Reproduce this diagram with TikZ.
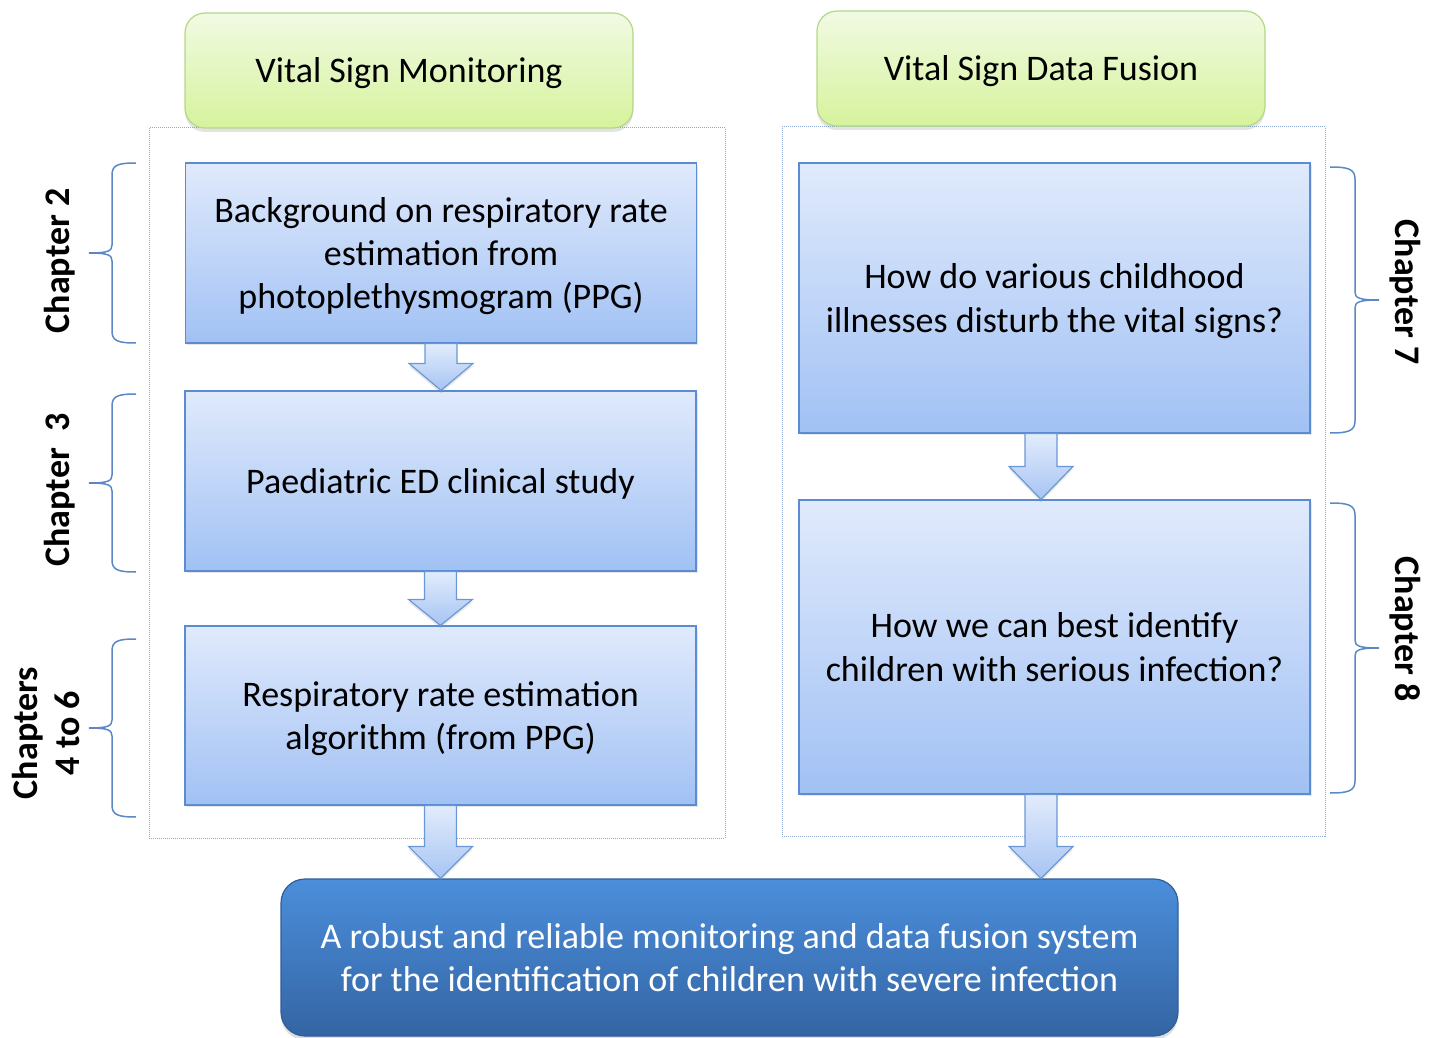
\documentclass[tikz,border=0pt]{standalone}
\usepackage{fontspec}
\setmainfont{Carlito}
\usetikzlibrary{calc,shadows}

\definecolor{greentop}{HTML}{F1FAE3}
\definecolor{greenbot}{HTML}{D6F39C}
\definecolor{greenline}{HTML}{B2D888}
\definecolor{bluetop}{HTML}{E0EAFC}
\definecolor{bluebot}{HTML}{A1C1F4}
\definecolor{blueline}{HTML}{5B8CD2}
\definecolor{arrowtop}{HTML}{E2ECFC}
\definecolor{arrowbot}{HTML}{A7C4F3}
\definecolor{arrowline}{HTML}{6A98D6}
\definecolor{goaltop}{HTML}{4B8EDB}
\definecolor{goalbot}{HTML}{3465A4}
\definecolor{goalline}{HTML}{2F5E98}
\definecolor{panelline}{HTML}{8FA8CF}
\definecolor{braceline}{HTML}{5B87C5}

% block arrow pointing down: #1 start point, #2 tip (only its y is used), #3 head length
\newcommand\blockarrow[3]{%
  \path[arrowbody] let \p1=(#1), \p2=(#2) in
    (\x1-8pt,\y1) -- (\x1-8pt,\y2+#3) -- (\x1-16pt,\y2+#3) -- (\x1,\y2)
    -- (\x1+16pt,\y2+#3) -- (\x1+8pt,\y2+#3) -- (\x1+8pt,\y1) -- cycle;}

% curly braces: top, middle, bottom (y values)
\newcommand\leftcurly[3]{%
  \draw[curly] (136,#1) .. controls (118,#1) and (112,#1+2) .. (112,#1+12)
    -- (112,#2-8) .. controls (112,#2-2) and (108,#2) .. (89,#2)
    .. controls (108,#2) and (112,#2+2) .. (112,#2+8)
    -- (112,#3-12) .. controls (112,#3-2) and (118,#3) .. (136,#3);}
\newcommand\rightcurly[3]{%
  \draw[curly] (1330,#1) .. controls (1348,#1) and (1355,#1+2) .. (1355,#1+12)
    -- (1355,#2-8) .. controls (1355,#2-2) and (1359,#2) .. (1379,#2)
    .. controls (1359,#2) and (1355,#2+2) .. (1355,#2+8)
    -- (1355,#3-12) .. controls (1355,#3-2) and (1348,#3) .. (1330,#3);}

\begin{document}
\begin{tikzpicture}[x=0.5pt,y=-0.5pt,
  txt/.style={font=\fontsize{18}{21.75}\selectfont, align=center, inner sep=0pt},
  header/.style={txt, text depth=0pt, rectangle, rounded corners=10pt, draw=greenline, line width=0.6pt,
    top color=greentop, bottom color=greenbot, minimum width=224pt, minimum height=57.5pt,
    drop shadow={opacity=0.22, shadow xshift=0pt, shadow yshift=-2pt}},
  panel/.style={rectangle, draw=panelline, line width=0.5pt, dash pattern=on 0.5pt off 0.5pt,
    inner sep=0pt},
  bluebox/.style={txt, text depth=0pt, rectangle, draw=blueline, line width=0.6pt,
    top color=bluetop, bottom color=bluebot, minimum width=255.5pt,
    drop shadow={opacity=0.2, shadow xshift=0.8pt, shadow yshift=-1.2pt}},
  goalbox/.style={txt, text=white, rectangle, rounded corners=12pt, draw=goalline, line width=0.6pt,
    top color=goaltop, bottom color=goalbot, minimum width=448.5pt, minimum height=78.5pt,
    drop shadow={opacity=0.25, shadow xshift=0pt, shadow yshift=-2pt}},
  arrowbody/.style={draw=arrowline, line width=0.6pt, top color=arrowtop, bottom color=arrowbot,
    drop shadow={opacity=0.18, shadow xshift=0pt, shadow yshift=-1.5pt}},
  curly/.style={draw=braceline, line width=0.75pt},
  chap/.style={font=\fontsize{18}{21}\selectfont\bfseries, align=center, inner sep=0pt}]

\useasboundingbox (0,0) rectangle (1437,1038);

% dotted frames of the two columns
\node[panel, minimum width=288pt, minimum height=355pt] (pL) at (437,483) {};
\node[panel, minimum width=271.5pt, minimum height=354.5pt] (pR) at (1053.5,481.5) {};

% column headings
\node[header] (hL) at (409,70.5) {Vital Sign Monitoring};
\node[header] (hR) at (1041,68.5) {Vital Sign Data Fusion};

% left column
\node[bluebox, minimum height=90pt] (b1) at (441,253)
  {Background on respiratory rate\\estimation from\\photoplethysmogram (PPG)};
\node[bluebox, minimum height=90pt] (b2) at (440.5,481) {Paediatric ED clinical study};
\node[bluebox, minimum height=89.5pt] (b3) at (440.5,715.5)
  {Respiratory rate estimation\\algorithm (from PPG)};

% right column
\node[bluebox, minimum height=135pt] (r1) at (1054.5,298)
  {How do various childhood\\illnesses disturb the vital signs?};
\node[bluebox, minimum height=147pt] (r2) at (1054.5,647)
  {How we can best identify\\children with serious infection?};

% outcome
\node[goalbox] (goal) at (729.5,957.5)
  {A robust and reliable monitoring and data fusion system\\for the identification of children with severe infection};

% arrows
\coordinate (r1a) at ($(r1.south)+(-13.5,0)$);
\coordinate (r2a) at ($(r2.south)+(-13.5,0)$);
\blockarrow{b1.south}{b2.north}{13.5pt}
\blockarrow{b2.south}{b3.north}{13pt}
\blockarrow{b3.south}{b3.south |- goal.north}{16pt}
\blockarrow{r1a}{r1a |- r2.north}{16.5pt}
\blockarrow{r2a}{r2a |- goal.north}{16pt}

% chapter braces
\leftcurly{163}{253}{343}
\leftcurly{394}{483}{572}
\leftcurly{639}{728}{817}
\rightcurly{167}{300}{433}
\rightcurly{503}{648}{793}

% chapter labels
\node[chap, rotate=90] (c2) at (60,261) {Chapter 2};
\node[chap, rotate=90] (c3) at (60,490) {Chapter~~3};
\node[chap, rotate=90] (c46) at (46,733) {Chapters\\4 to 6};
\node[chap, rotate=-90] (c7) at (1405,292) {Chapter 7};
\node[chap, rotate=-90] (c8) at (1405,629) {Chapter 8};

\end{tikzpicture}
\end{document}
